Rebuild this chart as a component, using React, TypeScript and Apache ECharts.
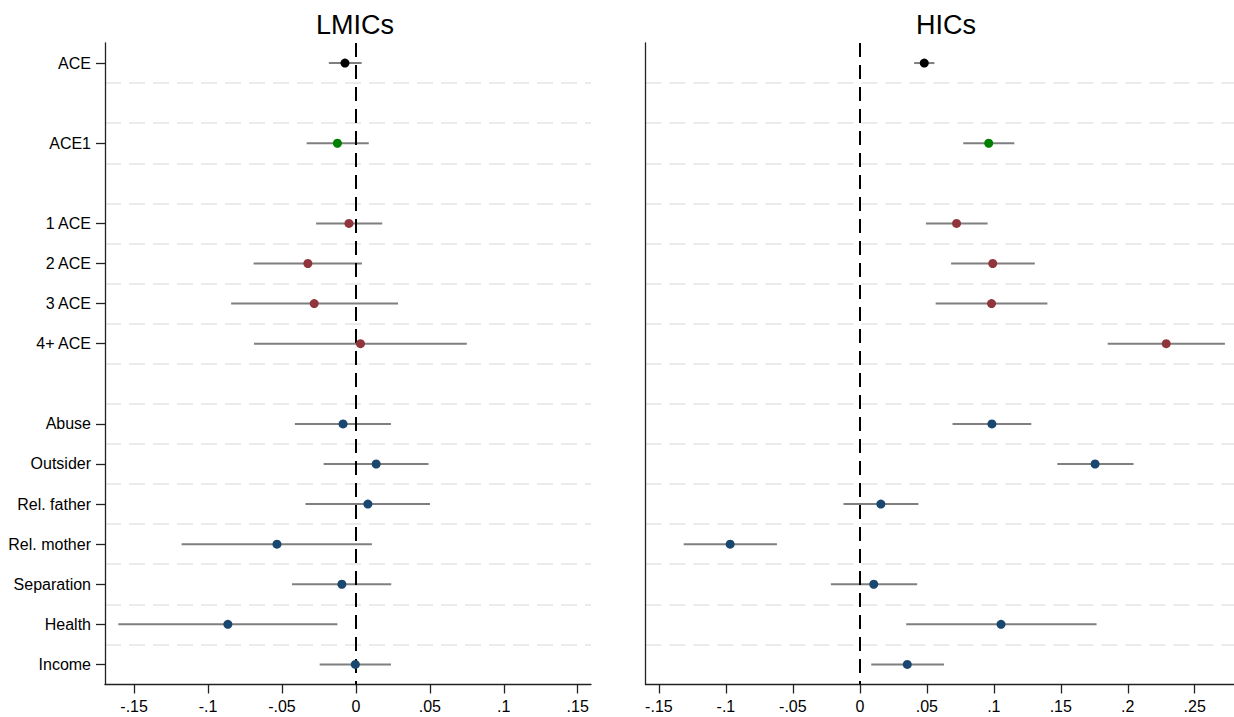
import React, { useEffect, useRef } from "react";
import * as echarts from "echarts";

// Row labels, top to bottom (blank strings are spacer rows)
const categories = [
  "ACE", " ", "ACE1", "  ", "1 ACE", "2 ACE", "3 ACE", "4+ ACE", "   ",
  "Abuse", "Outsider", "Rel. father", "Rel. mother", "Separation", "Health", "Income",
];

// Point colours per row
const rowColors = [
  "#000000", null, "#008000", null, "#90353b", "#90353b", "#90353b", "#90353b", null,
  "#1a476f", "#1a476f", "#1a476f", "#1a476f", "#1a476f", "#1a476f", "#1a476f",
];

// LMICs panel
const lmicEst = [-0.0074, null, -0.0125, null, -0.0047, -0.0325, -0.0282, 0.0031, null, -0.0087, 0.0137, 0.0081, -0.0534, -0.0095, -0.0866, -0.0004];
const lmicLo = [-0.0183, null, -0.0333, null, -0.0269, -0.0692, -0.0844, -0.0689, null, -0.0413, -0.0218, -0.0341, -0.1179, -0.0432, -0.1607, -0.0245];
const lmicHi = [0.0039, null, 0.0087, null, 0.0178, 0.0041, 0.0285, 0.075, null, 0.0237, 0.0491, 0.0501, 0.0108, 0.0239, -0.0125, 0.0237];

// HICs panel
const hicEst = [0.0481, null, 0.0962, null, 0.0722, 0.0992, 0.0983, 0.2287, null, 0.0986, 0.1756, 0.0157, -0.0968, 0.0104, 0.1054, 0.0354];
const hicLo = [0.0405, null, 0.0772, null, 0.0493, 0.0681, 0.0566, 0.185, null, 0.0692, 0.1474, -0.0122, -0.1315, -0.0216, 0.0346, 0.0085];
const hicHi = [0.0557, null, 0.1153, null, 0.0954, 0.1306, 0.14, 0.2725, null, 0.128, 0.2043, 0.0437, -0.0619, 0.0428, 0.1767, 0.0628];

// Tick values
const lmicTicks = [-0.15, -0.1, -0.05, 0, 0.05, 0.1, 0.15];
const hicTicks = [-0.15, -0.1, -0.05, 0, 0.05, 0.1, 0.15, 0.2, 0.25];
const lmicRange = [-0.1697, 0.159];
const hicRange = [-0.16, 0.2793];

const FONT = "Liberation Sans, Arial, Helvetica, sans-serif";

function fmtTick(v: number): string {
  if (Math.abs(v) < 1e-9) return "0";
  const s = String(parseFloat(Math.abs(v).toFixed(3))).replace(/^0/, "");
  return (v < 0 ? "-" : "") + s;
}

function buildPanel(gridIndex: number, est: (number | null)[], lo: (number | null)[], hi: (number | null)[]) {
  const ciData: any[] = [];
  const ptData: any[] = [];
  categories.forEach((_, i) => {
    if (est[i] === null) return;
    ciData.push([lo[i], hi[i], i]);
    ptData.push({ value: [est[i], i], itemStyle: { color: rowColors[i], opacity: 1 } });
  });
  const yIdx = gridIndex * 2;
  return [
    {
      type: "custom",
      xAxisIndex: gridIndex,
      yAxisIndex: yIdx,
      z: 2,
      silent: true,
      encode: { x: [0, 1], y: 2 },
      data: ciData,
      renderItem: (params: any, api: any) => {
        const a = api.coord([api.value(0), api.value(2)]);
        const b = api.coord([api.value(1), api.value(2)]);
        return {
          type: "line",
          shape: { x1: a[0], y1: a[1], x2: b[0], y2: b[1] },
          style: { stroke: "#7f7f7f", lineWidth: 2 },
        };
      },
    },
    {
      type: "line",
      xAxisIndex: gridIndex,
      yAxisIndex: yIdx,
      data: [],
      z: 3,
      markLine: {
        silent: true,
        symbol: ["none", "none"],
        label: { show: false },
        lineStyle: { color: "#000000", width: 2, type: [14, 8] },
        data: [{ xAxis: 0 }],
      },
    },
    {
      type: "scatter",
      xAxisIndex: gridIndex,
      yAxisIndex: yIdx,
      z: 5,
      symbol: "circle",
      symbolSize: 9,
      itemStyle: { opacity: 1 },
      data: ptData,
    },
  ];
}

function yAxes(gridIndex: number, showLabels: boolean) {
  return [
    {
      type: "category",
      gridIndex,
      position: "left",
      inverse: true,
      data: categories,
      boundaryGap: true,
      axisLine: { show: true, onZero: false, lineStyle: { color: "#222222", width: 1.3 } },
      axisTick: {
        show: showLabels,
        alignWithLabel: true,
        length: 9,
        interval: (_i: number, v: string) => v.trim() !== "",
        lineStyle: { color: "#222222", width: 1.3 },
      },
      axisLabel: {
        show: showLabels,
        interval: 0,
        margin: 14,
        color: "#000000",
        fontSize: 16,
        fontFamily: FONT,
      },
      splitLine: { show: false },
    },
    {
      type: "value",
      gridIndex,
      position: "right",
      min: 0,
      max: 16,
      interval: 1,
      inverse: true,
      axisLine: { show: false, onZero: false },
      axisTick: { show: false },
      axisLabel: { show: false },
      splitLine: {
        show: true,
        showMinLine: false,
        showMaxLine: false,
        lineStyle: { color: "#ebebeb", width: 2, type: [16, 8] },
      },
    },
  ];
}

function xAxis(gridIndex: number, range: number[], ticks: number[]) {
  return {
    type: "value",
    gridIndex,
    position: "bottom",
    min: range[0],
    max: range[1],
    axisLine: { show: true, onZero: false, lineStyle: { color: "#222222", width: 1.3 } },
    axisTick: { show: true, length: 9, customValues: ticks, lineStyle: { color: "#222222", width: 1.3 } },
    axisLabel: {
      show: true,
      customValues: ticks,
      formatter: (v: number) => fmtTick(v),
      margin: 14,
      color: "#000000",
      fontSize: 16,
      fontFamily: FONT,
    },
    splitLine: { show: false },
  };
}

export default function App() {
  const ref = useRef<HTMLDivElement>(null);
  useEffect(() => {
    if (!ref.current) return;
    const chart = echarts.init(ref.current, undefined, { renderer: "svg" });
    const titleStyle = { fontSize: 27, fontWeight: "normal", color: "#000000", fontFamily: FONT };
    chart.setOption({
      animation: false,
      backgroundColor: "#ffffff",
      title: [
        { text: "LMICs", left: 350, top: 6, textAlign: "center", textStyle: titleStyle },
        { text: "HICs", left: 941, top: 6, textAlign: "center", textStyle: titleStyle },
      ],
      grid: [
        { left: 105, right: 643, top: 43, bottom: 32.5 },
        { left: 645.5, right: 0, top: 43, bottom: 32.5 },
      ],
      xAxis: [xAxis(0, lmicRange, lmicTicks), xAxis(1, hicRange, hicTicks)],
      yAxis: [...yAxes(0, true), ...yAxes(1, false)],
      series: [
        ...buildPanel(0, lmicEst, lmicLo, lmicHi),
        ...buildPanel(1, hicEst, hicLo, hicHi),
      ],
    });
    return () => chart.dispose();
  }, []);
  return (
    <div
      ref={ref}
      style={{ position: "absolute", left: 0, top: 0, width: 1234, height: 717, background: "#fff" }}
    />
  );
}
